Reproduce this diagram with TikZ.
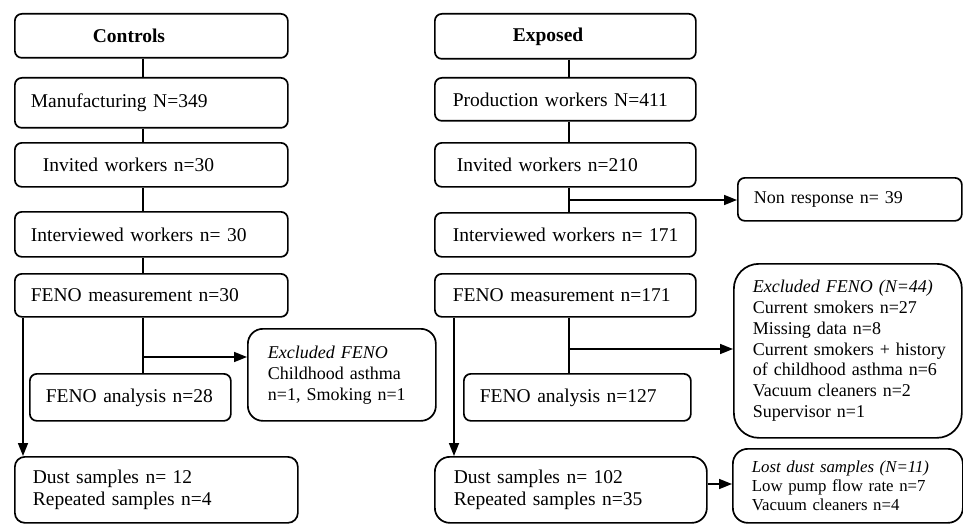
\documentclass[tikz,border=0pt]{standalone}
\usepackage{fontspec}
\setmainfont{Liberation Serif}
\usetikzlibrary{arrows.meta}
\begin{document}
\begin{tikzpicture}[x=1pt,y=-1pt,
  bx/.style={draw, line width=1.7pt, rounded corners=7pt, anchor=north west,
    inner ysep=0pt, align=left, font=\fontsize{19.5}{22}\selectfont},
  ln/.style={line width=1.7pt},
  arr/.style={line width=1.7pt, -{Triangle[length=13pt,width=10pt]}}]
\useasboundingbox (0,0) rectangle (963,524);
% ---------- Controls column ----------
\node[bx, inner xsep=78pt, text width=117pt, minimum height=44pt] (ctl) at (14,13) {\mbox{\textbf{Controls}}};
\node[bx, inner xsep=16pt, text width=241pt, minimum height=50pt] (manu) at (14,77) {\mbox{Manufacturing N=349}};
\node[bx, inner xsep=28pt, text width=217pt, minimum height=44pt] (inv) at (14,142) {\mbox{Invited workers n=30}};
\node[bx, inner xsep=16pt, text width=241pt, minimum height=45pt] (intv) at (14,211) {\mbox{Interviewed workers n= 30}};
\node[bx, inner xsep=16pt, text width=241pt, minimum height=43pt] (fenom) at (14,273) {\mbox{FENO measurement n=30}};
\node[bx, inner xsep=16pt, text width=169pt, minimum height=47pt] (fenoa) at (29,373) {\mbox{FENO analysis n=28}};
\node[bx, rounded corners=15pt, inner xsep=20pt, text width=148pt, minimum height=92pt,
  font=\fontsize{18}{21}\selectfont] (exc1) at (247,328)
  {\mbox{\textit{Excluded FENO}}\\\mbox{Childhood asthma}\\\mbox{n=1, Smoking n=1}};
\node[bx, rounded corners=10pt, inner xsep=18pt, text width=247pt, minimum height=66pt] (dust1) at (14,456)
  {\mbox{Dust samples n= 12}\\\mbox{Repeated samples n=4}};
% ---------- Exposed column ----------
\node[bx, inner xsep=78pt, text width=105pt, minimum height=45pt] (exp) at (434,13) {\mbox{\textbf{Exposed}}};
\node[bx, inner xsep=18pt, text width=225pt, minimum height=43pt] (prod) at (434,77) {\mbox{Production workers N=411}};
\node[bx, inner xsep=22pt, text width=217pt, minimum height=44pt] (inv2) at (434,142) {\mbox{Invited workers n=210}};
\node[bx, inner xsep=16pt, text width=192pt, minimum height=43pt,
  font=\fontsize{18}{21}\selectfont] (non) at (737,177) {\mbox{Non response n= 39}};
\node[bx, inner xsep=18pt, text width=225pt, minimum height=44pt] (intv2) at (434,212) {\mbox{Interviewed workers n= 171}};
\node[bx, inner xsep=18pt, text width=225pt, minimum height=43pt] (fenom2) at (434,273) {\mbox{FENO measurement n=171}};
\node[bx, inner xsep=16pt, text width=195pt, minimum height=47pt] (fenoa2) at (463,373) {\mbox{FENO analysis n=127}};
\node[bx, rounded corners=25pt, inner xsep=19pt, text width=190pt, minimum height=174pt,
  font=\fontsize{18}{20.8}\selectfont] (exc2) at (733,263)
  {\mbox{\textit{Excluded FENO (N=44)}}\\\mbox{Current smokers n=27}\\\mbox{Missing data n=8}\\\mbox{Current smokers + history}\\\mbox{of childhood asthma n=6}\\\mbox{Vacuum cleaners n=2}\\\mbox{Supervisor n=1}};
\node[bx, rounded corners=15pt, inner xsep=19pt, text width=234pt, minimum height=66pt] (dust2) at (434,456)
  {\mbox{Dust samples n= 102}\\\mbox{Repeated samples n=35}};
\node[bx, rounded corners=15pt, inner xsep=19pt, text width=192pt, minimum height=74pt,
  font=\fontsize{16.8}{19}\selectfont] (lost) at (732,448)
  {\mbox{\textit{Lost dust samples (N=11)}}\\\mbox{Low pump flow rate n=7}\\\mbox{Vacuum cleaners n=4}};
% ---------- connector coordinates ----------
\coordinate (cl) at (143,0);
\coordinate (cr) at (569,0);
\coordinate (dl) at (23,0);
\coordinate (dr) at (454,0);
\coordinate (b1) at (143,357);
\coordinate (b2) at (569,200);
\coordinate (b3) at (569,349);
\coordinate (b4) at (0,484);
% ---------- Controls connectors ----------
\draw[ln] (ctl.south -| cl) -- (manu.north -| cl);
\draw[ln] (manu.south -| cl) -- (inv.north -| cl);
\draw[ln] (inv.south -| cl) -- (intv.north -| cl);
\draw[ln] (intv.south -| cl) -- (fenom.north -| cl);
\draw[ln] (fenom.south -| cl) -- (fenoa.north -| cl);
\draw[arr] (b1) -- (b1 -| exc1.west);
\draw[arr] (fenom.south -| dl) -- (dust1.north -| dl);
% ---------- Exposed connectors ----------
\draw[ln] (exp.south -| cr) -- (prod.north -| cr);
\draw[ln] (prod.south -| cr) -- (inv2.north -| cr);
\draw[ln] (inv2.south -| cr) -- (intv2.north -| cr);
\draw[arr] (b2) -- (b2 -| non.west);
\draw[ln] (fenom2.south -| cr) -- (fenoa2.north -| cr);
\draw[arr] (b3) -- (b3 -| exc2.west);
\draw[arr] (fenom2.south -| dr) -- (dust2.north -| dr);
\draw[arr] (dust2.east |- b4) -- (lost.west |- b4);
\end{tikzpicture}
\end{document}
